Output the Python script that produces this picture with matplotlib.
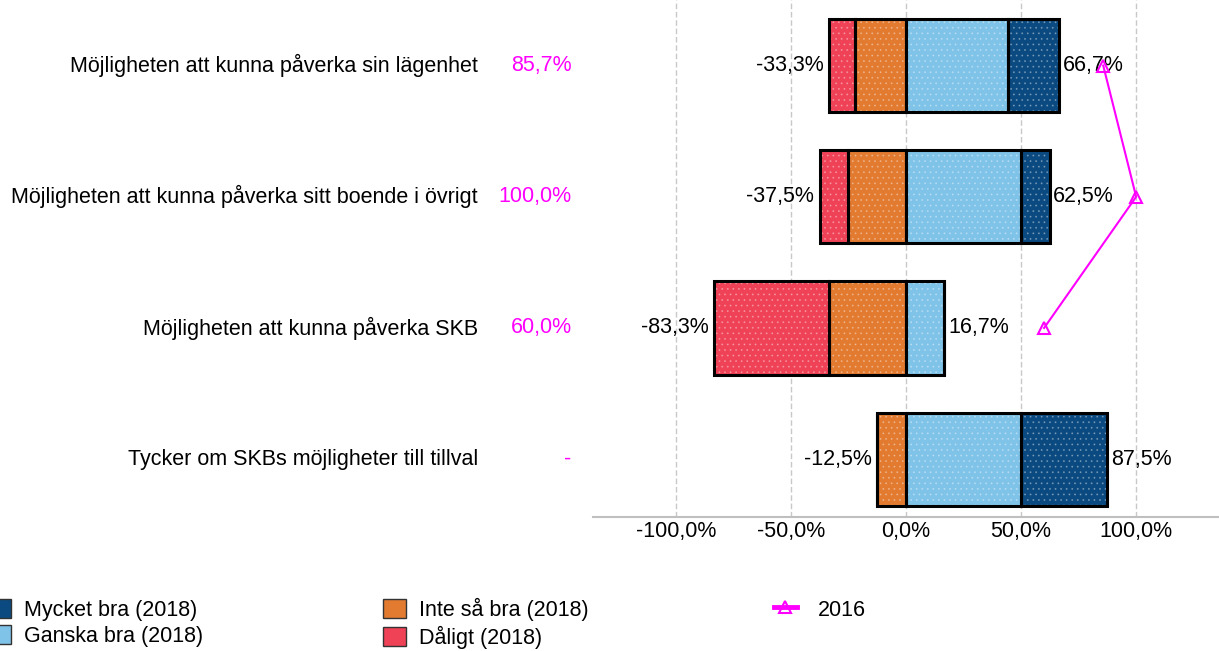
import matplotlib
matplotlib.use("Agg")
import matplotlib.pyplot as plt
from matplotlib.patches import Patch
from matplotlib.lines import Line2D
from matplotlib.transforms import blended_transform_factory

plt.rcParams['font.family'] = ['Liberation Sans', 'DejaVu Sans']
plt.rcParams['hatch.linewidth'] = 0.6

# --- Data ---
categories = [
    "Möjligheten att kunna påverka sin lägenhet",
    "Möjligheten att kunna påverka sitt boende i övrigt",
    "Möjligheten att kunna påverka SKB",
    "Tycker om SKBs möjligheter till tillval",
]
mycket_bra = [22.2, 12.5, 0.0, 37.5]
ganska_bra = [44.4, 50.0, 16.7, 50.0]
inte_sa_bra = [22.2, 25.0, 33.3, 12.5]
daligt = [11.1, 12.5, 50.0, 0.0]
pos_total = ["66,7%", "62,5%", "16,7%", "87,5%"]
neg_total = ["-33,3%", "-37,5%", "-83,3%", "-12,5%"]
values_2016 = [85.7, 100.0, 60.0, None]
labels_2016 = ["85,7%", "100,0%", "60,0%", "-"]
xticks = [-100, -50, 0, 50, 100]
xtick_labels = ["-100,0%", "-50,0%", "0,0%", "50,0%", "100,0%"]

c_mycket = "#0b4a80"
c_ganska = "#7fc3e8"
c_inte = "#e27a30"
c_dalig = "#ef4257"
c_2016 = "#ff00ff"
fs = 15.5

fig = plt.figure(figsize=(12.19, 6.51), dpi=100)
ax = fig.add_axes([0.4865, 0.206, 0.5135, 0.794])

y = list(range(len(categories)))
h = 0.71


def draw(left, width, color):
    ax.barh(y, width, left=left, height=h, color=color, edgecolor=(1, 1, 1, 0.3),
            hatch="...", linewidth=0, zorder=2)
    ax.barh(y, width, left=left, height=h, color="none", edgecolor="black",
            linewidth=2.2, zorder=3)


# positive side
draw([0] * 4, ganska_bra, c_ganska)
draw(ganska_bra, mycket_bra, c_mycket)
# negative side
neg_inte = [-v for v in inte_sa_bra]
neg_dal = [-v for v in daligt]
draw([0] * 4, neg_inte, c_inte)
draw(neg_inte, neg_dal, c_dalig)

for i in y:
    ptot = ganska_bra[i] + mycket_bra[i]
    ntot = inte_sa_bra[i] + daligt[i]
    ax.text(ptot + 1.5, i, pos_total[i], ha="left", va="center", fontsize=fs, zorder=5)
    ax.text(-ntot - 2.5, i, neg_total[i], ha="right", va="center", fontsize=fs, zorder=5)

# 2016 line
ys = [i for i in y if values_2016[i] is not None]
xs = [values_2016[i] for i in ys]
ax.plot(xs, ys, color=c_2016, lw=1.5, marker="^", markersize=8,
        markerfacecolor="none", markeredgecolor=c_2016, markeredgewidth=1.5, zorder=6)

# left-side labels
tr = blended_transform_factory(fig.transFigure, ax.transData)
for i, cat in enumerate(categories):
    fig.text(0.392, i, cat, transform=tr, ha="right", va="center", fontsize=fs)
    if values_2016[i] is None:
        fig.text(0.466, i, labels_2016[i], transform=tr, ha="center", va="center",
                 fontsize=fs, color=c_2016)
    else:
        fig.text(0.469, i, labels_2016[i], transform=tr, ha="right", va="center",
                 fontsize=fs, color=c_2016)

ax.set_xlim(-136, 136)
ax.set_ylim(3.44, -0.5)
ax.set_xticks(xticks)
ax.set_xticklabels(xtick_labels, fontsize=fs)
ax.set_yticks([])
ax.tick_params(axis="x", length=0, pad=3)
ax.grid(axis="x", color="#c8c8c8", linestyle=(0, (4, 2)), linewidth=1, zorder=0)
for s in ["top", "right", "left"]:
    ax.spines[s].set_visible(False)
ax.spines["bottom"].set_color("#bfbfbf")
ax.spines["bottom"].set_linewidth(1.5)

# legends: three columns placed separately
leg_kw = dict(loc="upper left", frameon=False, fontsize=fs, handlelength=1.05,
              handleheight=0.95, labelspacing=0.22, borderaxespad=0, borderpad=0)
col1 = [
    Patch(facecolor=c_mycket, edgecolor="#333333", label="Mycket bra (2018)"),
    Patch(facecolor=c_ganska, edgecolor="#333333", label="Ganska bra (2018)"),
]
col2 = [
    Patch(facecolor=c_inte, edgecolor="#333333", label="Inte så bra (2018)"),
    Patch(facecolor=c_dalig, edgecolor="#333333", label="Dåligt (2018)"),
]
col3 = [
    Line2D([], [], color=c_2016, marker="^", markerfacecolor="none", markersize=8,
           markeredgewidth=1.5, lw=3.5, label="2016"),
]
fig.legend(handles=col1, bbox_to_anchor=(-12 / 1219, 1 - 599 / 651), handletextpad=0.6, **leg_kw)
fig.legend(handles=col2, bbox_to_anchor=(383 / 1219, 1 - 598 / 651), handletextpad=0.6, **leg_kw)
fig.legend(handles=col3, bbox_to_anchor=(774 / 1219, 1 - 599 / 651), handletextpad=1.0, **leg_kw)

fig.savefig("out.png", dpi=100)
